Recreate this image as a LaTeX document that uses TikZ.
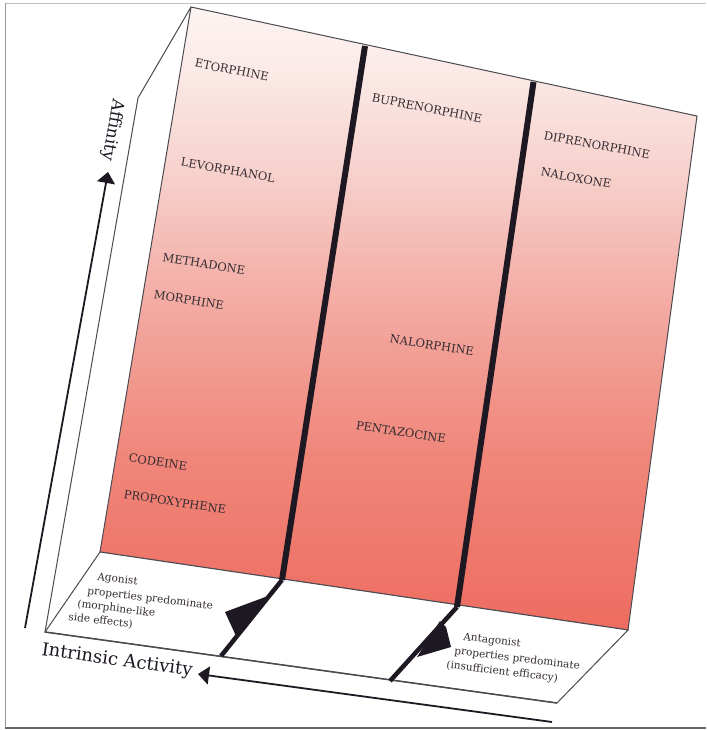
\documentclass[tikz,border=0pt]{standalone}
\usepackage{fontspec}
\setmainfont{DejaVu Serif}
\usetikzlibrary{arrows.meta}
\definecolor{palepink}{HTML}{FDF4F2}
\definecolor{pinkA}{HTML}{FBEAE7}
\definecolor{pinkB}{HTML}{F7D2CD}
\definecolor{pinkC}{HTML}{F4B8B1}
\definecolor{pinkD}{HTML}{F29F96}
\definecolor{pinkE}{HTML}{F0867A}
\definecolor{salmon}{HTML}{EE6C60}
\definecolor{inkdark}{HTML}{1E1822}
\definecolor{labelink}{HTML}{342C32}
\definecolor{edgegray}{HTML}{4A4A50}
\pgfdeclareverticalshading{facefade}{100bp}{color(0bp)=(salmon); color(25bp)=(salmon); color(39bp)=(pinkE); color(47.5bp)=(pinkD); color(55bp)=(pinkC); color(62bp)=(pinkB); color(70bp)=(pinkA); color(75bp)=(palepink); color(100bp)=(palepink)}
\tikzset{
  drug/.style={font=\fontsize{11.5}{13}\selectfont, text=labelink, inner sep=0pt},
  floortext/.style={font=\fontsize{10.5}{12}\selectfont, text=labelink, inner sep=0pt, anchor=base west, rotate=-7},
  axislabel/.style={font=\fontsize{18}{20}\selectfont, text=inkdark, inner sep=0pt},
  divider/.style={draw=inkdark, line width=6pt, line join=round},
  footline/.style={draw=inkdark, line width=4.5pt, line join=round},
  thinedge/.style={draw=edgegray, line width=1pt},
  axisarrow/.style={draw=inkdark, line width=1.8pt, -{Triangle[width=18pt,length=11pt]}},
}
\begin{document}
\begin{tikzpicture}[x=1pt,y=-1pt]
\useasboundingbox (0,0) rectangle (706,730);
% outer frame
\draw[draw=black!25, line width=1pt] (5.5,3.5) -- (706,3.5);
\draw[draw=black!40, line width=1pt] (5.5,3.5) -- (5.5,728);
\draw[draw=black!60, line width=1.5pt] (5,728) -- (706,728);

% front (affinity) face with its colour fade
\shade[shading=facefade] (191,7) -- (697,116) -- (628,630) -- (100,552) -- cycle;
\draw[thinedge] (191,7) -- (697,116) -- (628,630) -- (100,552) -- cycle;

% left side face
\draw[thinedge] (191,7) -- (138,98) -- (45,632);

% floor
\filldraw[fill=white, thinedge] (100,552) -- (45,632) -- (557,703) -- (628,630) -- cycle;
\draw[draw=edgegray, line width=1.5pt] (45,632) -- (557,703);

% column dividers and their feet
\draw[divider] (365,46) -- (282,580);
\draw[footline] (282,580) -- (221,656);
\fill[inkdark] (268,596) -- (225,612) -- (236,636) -- cycle;

\draw[divider] (533.5,82) -- (457,607);
\draw[footline] (457,607) -- (390,681);
\fill[inkdark] (440,621) -- (446,627) -- (451,647) -- (417,657) -- cycle;

% axes
\coordinate (affbase) at (25,628);
\coordinate (afftip) at (108,172);
\draw[axisarrow] (affbase) -- (afftip);
\coordinate (iabase) at (552,722);
\coordinate (iatip) at (198,674);
\draw[axisarrow] (iabase) -- (iatip);

\node[axislabel, rotate=-8] (intrinsic) at (117,661) {Intrinsic Activity};
\node[axislabel, font=\fontsize{17}{19}\selectfont, rotate=-100] (affinity) at (113,130) {Affinity};

% drugs, agonist column
\node[drug, rotate=-11] (etorphine) at (232,70) {ETORPHINE};
\node[drug, rotate=-10] (levorphanol) at (228,170) {LEVORPHANOL};
\node[drug, rotate=-9] (methadone) at (204,264) {METHADONE};
\node[drug, rotate=-9] (morphine) at (189,300) {MORPHINE};
\node[drug, rotate=-8.5] (codeine) at (158,462) {CODEINE};
\node[drug, rotate=-8.5] (propoxyphene) at (175,502) {PROPOXYPHENE};
% mixed column
\node[drug, rotate=-11] (buprenorphine) at (427,108) {BUPRENORPHINE};
\node[drug, rotate=-9] (nalorphine) at (432,345) {NALORPHINE};
\node[drug, rotate=-9] (pentazocine) at (401,432) {PENTAZOCINE};
% antagonist column
\node[drug, rotate=-10.5] (diprenorphine) at (597,145) {DIPRENORPHINE};
\node[drug, rotate=-10] (naloxone) at (576,178) {NALOXONE};

% floor notes
\node[floortext] (ag1) at (97,580) {Agonist};
\node[floortext] (ag2) at (87,594) {properties predominate};
\node[floortext] (ag3) at (77,607) {(morphine-like};
\node[floortext] (ag4) at (68,620) {side effects)};
\node[floortext] (an1) at (463,640) {Antagonist};
\node[floortext] (an2) at (454,654) {properties predominate};
\node[floortext] (an3) at (446,668) {(insufficient efficacy)};
\end{tikzpicture}
\end{document}
